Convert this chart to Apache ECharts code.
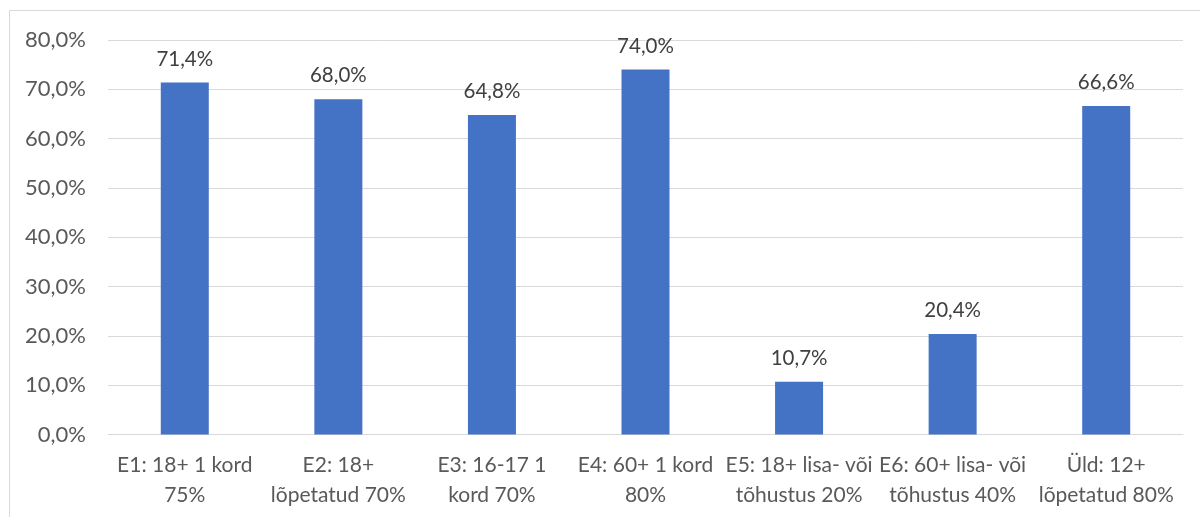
<!DOCTYPE html>
<html>
<head>
<meta charset="utf-8">
<script src="https://cdn.jsdelivr.net/npm/echarts@6/dist/echarts.min.js"></script>
<style>
  html, body { margin: 0; padding: 0; background: #fff; }
  #chart { width: 1200px; height: 517px; }
</style>
</head>
<body>
<div id="chart"></div>
<script>
// kategooriad (eesmärgid)
const categories = [
  'E1: 18+ 1 kord\n75%',
  'E2: 18+\nlõpetatud 70%',
  'E3: 16-17 1\nkord 70%',
  'E4: 60+ 1 kord\n80%',
  'E5: 18+ lisa- või\ntõhustus 20%',
  'E6: 60+ lisa- või\ntõhustus 40%',
  'Üld: 12+\nlõpetatud 80%'
]
// saavutatud tase, %
const values = [71.4, 68.0, 64.8, 74.0, 10.7, 20.4, 66.6]

let pct = (v) => v.toFixed(1).replace('.', ',') + '%'

let chart = echarts.init(document.getElementById('chart'))
let option = {
  animation: false,
  textStyle: { fontFamily: 'Lato' },
  graphic: [{
    type: 'rect',
    shape: { x: 9.5, y: 10.5, width: 1400, height: 700 },
    style: { fill: 'none', stroke: '#D9D9D9', lineWidth: 1 },
    silent: true
  }],
  grid: {
    left: 108,
    right: 17,
    top: 40,
    bottom: 82.5
  },
  xAxis: {
    type: 'category',
    data: categories,
    axisLine: { lineStyle: { color: '#D9D9D9', width: 1 } },
    axisTick: { show: false },
    axisLabel: {
      color: '#595959',
      fontSize: 21,
      lineHeight: 30,
      margin: 16,
      interval: 0
    }
  },
  yAxis: {
    type: 'value',
    min: 0,
    max: 80,
    interval: 10,
    axisLine: { show: false },
    axisTick: { show: false },
    splitLine: { lineStyle: { color: '#D9D9D9', width: 1 } },
    axisLabel: {
      color: '#595959',
      fontSize: 22,
      margin: 22,
      formatter: pct
    }
  },
  series: [
    {
      type: 'bar',
      data: values,
      barWidth: 48,
      itemStyle: { color: '#4472C4' },
      label: {
        show: true,
        position: 'top',
        distance: 13,
        color: '#404040',
        fontSize: 20.5,
        formatter: (p) => pct(p.value)
      }
    }
  ]
}
chart.setOption(option)
</script>
</body>
</html>
